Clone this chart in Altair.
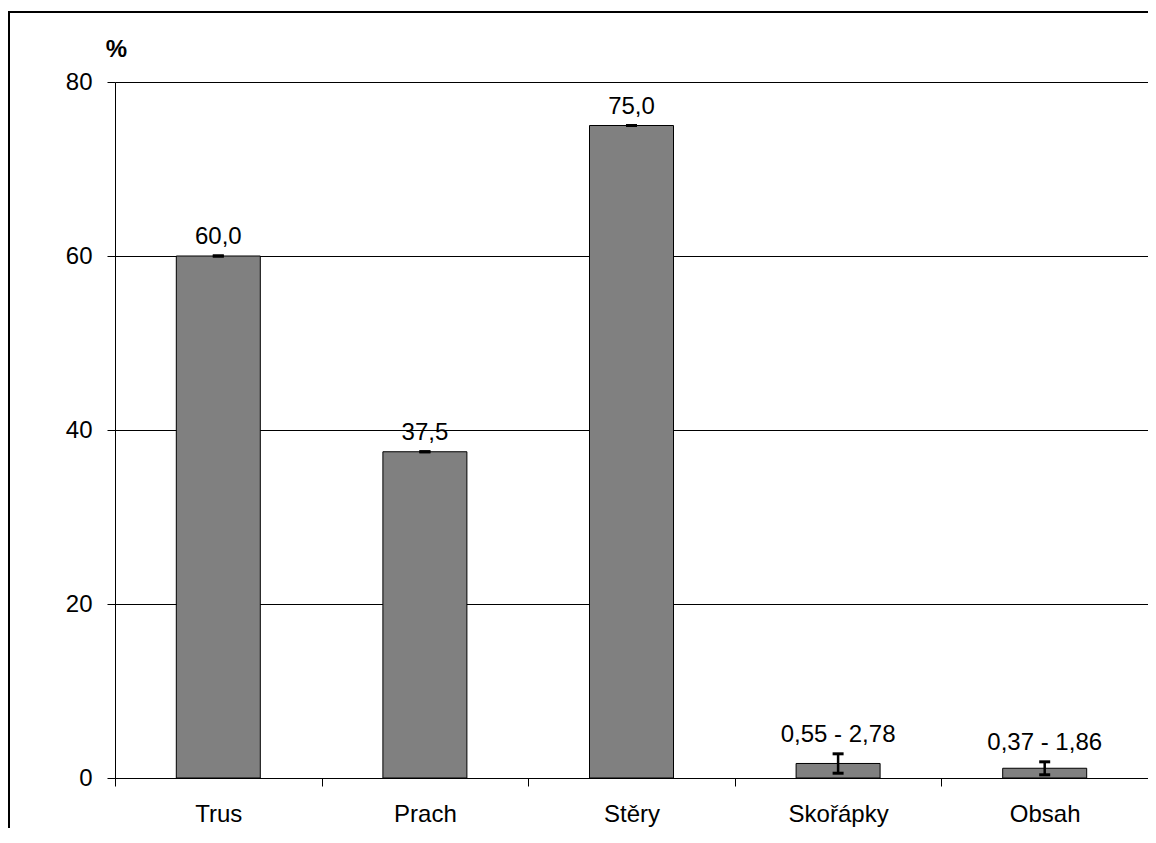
import altair as alt
import pandas as pd

categories = ["Trus", "Prach", "Stěry", "Skořápky", "Obsah"]
values = [60.0, 37.5, 75.0, 1.67, 1.12]
err_low = [60.0, 37.5, 75.0, 0.55, 0.37]
err_high = [60.0, 37.5, 75.0, 2.78, 1.86]
labels = ["60,0", "37,5", "75,0", "0,55 - 2,78", "0,37 - 1,86"]
y_ticks = [0, 20, 40, 60, 80]

df = pd.DataFrame({
    "cat": categories,
    "val": values,
    "lo": err_low,
    "hi": err_high,
    "lab": labels,
})

W, H = 1033, 696
FONT = "Liberation Sans"
FS = 24

x_enc = alt.X(
    "cat:N",
    sort=categories,
    scale=alt.Scale(paddingInner=0, paddingOuter=0),
    axis=alt.Axis(
        title=None,
        tickBand="extent",
        labelAngle=0,
        labelFont=FONT,
        labelFontSize=FS,
        labelColor="black",
        labelPadding=16,
        tickSize=8,
        tickColor="black",
        domainColor="black",
        grid=False,
    ),
)

y_scale = alt.Scale(domain=[0, 80], nice=False)

bars = alt.Chart(df).mark_bar(
    size=84, fill="#808080", stroke="black", strokeWidth=1
).encode(
    x=x_enc,
    y=alt.Y(
        "val:Q",
        scale=y_scale,
        axis=alt.Axis(
            values=y_ticks,
            title="%",
            titleAngle=0,
            titleAlign="center",
            titleBaseline="middle",
            titleX=1,
            titleY=-33,
            titleFont=FONT,
            titleFontSize=24,
            titleFontWeight="bold",
            titleColor="black",
            labelFont=FONT,
            labelFontSize=FS,
            labelColor="black",
            labelPadding=15,
            tickSize=8,
            tickColor="black",
            domainColor="black",
            grid=True,
            gridColor="black",
            gridOpacity=1,
            gridWidth=1,
        ),
    ),
)

stem = alt.Chart(df).mark_rule(color="black", strokeWidth=2.5).encode(
    x=alt.X("cat:N", sort=categories),
    y=alt.Y("lo:Q", scale=y_scale),
    y2="hi:Q",
)

cap_lo = alt.Chart(df).mark_tick(color="black", size=11, thickness=3, opacity=1).encode(
    x=alt.X("cat:N", sort=categories),
    y=alt.Y("lo:Q", scale=y_scale),
)
cap_hi = alt.Chart(df).mark_tick(color="black", size=11, thickness=3, opacity=1).encode(
    x=alt.X("cat:N", sort=categories),
    y=alt.Y("hi:Q", scale=y_scale),
)

text = alt.Chart(df).mark_text(
    font=FONT, fontSize=FS, color="black", baseline="alphabetic", dy=-12
).encode(
    x=alt.X("cat:N", sort=categories),
    y=alt.Y("hi:Q", scale=y_scale),
    text="lab:N",
)

frame = alt.Chart(pd.DataFrame({"a": [0]})).mark_rect(
    fill="transparent", stroke="black", strokeWidth=2
).encode(
    x=alt.value(-106),
    x2=alt.value(W + 40),
    y=alt.value(-70),
    y2=alt.value(H + 120),
)

chart = alt.layer(frame, bars, stem, cap_lo, cap_hi, text).properties(
    width=W,
    height=H,
    autosize=alt.AutoSizeParams(type="none"),
    padding={"left": 107, "top": 74, "right": 0, "bottom": 50},
).configure_view(strokeWidth=0)

chart.save("out.html", embed_options={"renderer": "svg", "actions": False})
